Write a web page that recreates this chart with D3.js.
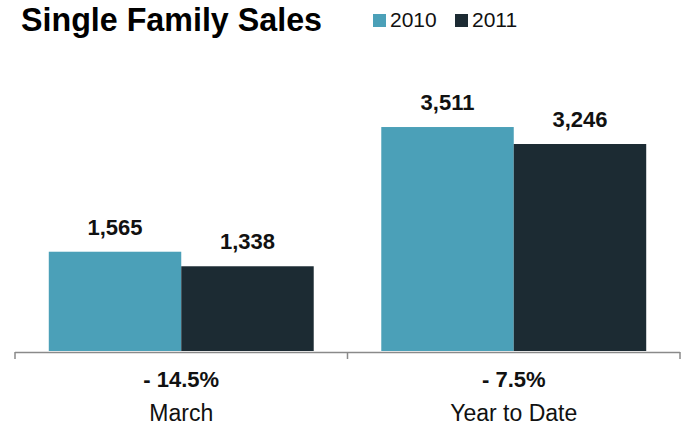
<!doctype html>
<html>
<head>
<meta charset="utf-8">
<script src="https://d3js.org/d3.v7.min.js"></script>
<style>
  body { margin: 0; background: #fff; }
  text { font-family: "Liberation Sans", Arial, sans-serif; }
</style>
</head>
<body>
<script>
// chart data
var categories = ["March", "Year to Date"];
var seriesNames = ["2010", "2011"];
var sales2010 = [1565, 3511];
var sales2011 = [1338, 3246];
var changeLabels = ["- 14.5%", "- 7.5%"];
var colors = ["#4ba0b8", "#1c2b33"];

var width = 692, height = 430;
var baseY = 352;

var svg = d3.select("body").append("svg")
    .attr("width", width)
    .attr("height", height);

var x = d3.scaleBand()
    .domain(categories)
    .range([15, 680]);

var xs = d3.scaleBand()
    .domain(seriesNames)
    .range([0, x.bandwidth()])
    .paddingOuter(0.255);

var y = d3.scaleLinear()
    .domain([0, 4000])
    .range([baseY, baseY - 256.3]);

var rows = categories.map(function(c, i) {
    return { cat: c, vals: [sales2010[i], sales2011[i]], change: changeLabels[i] };
});

// title
svg.append("text")
    .attr("x", 21).attr("y", 31)
    .style("font-family", "'Liberation Sans Narrow', 'Liberation Sans', sans-serif")
    .style("font-weight", "bold")
    .style("font-size", "33px")
    .attr("textLength", 301)
    .attr("lengthAdjust", "spacingAndGlyphs")
    .text("Single Family Sales");

// legend
var legend = svg.selectAll(".legend")
    .data(seriesNames)
    .enter().append("g")
    .attr("transform", function(d, i) { return "translate(" + (373 + i * 82) + ",0)"; });

legend.append("rect")
    .attr("x", 0).attr("y", 14)
    .attr("width", 13).attr("height", 13)
    .attr("fill", function(d, i) { return colors[i]; });

legend.append("text")
    .attr("x", 17).attr("y", 27)
    .style("font-size", "21px")
    .attr("fill", "#111")
    .text(function(d) { return d; });

// bars
var group = svg.selectAll(".grp")
    .data(rows)
    .enter().append("g")
    .attr("transform", function(d) { return "translate(" + x(d.cat) + ",0)"; });

var bar = group.selectAll(".bar")
    .data(function(d) { return d.vals.map(function(v, i) { return { name: seriesNames[i], v: v, i: i }; }); })
    .enter();

bar.append("rect")
    .attr("x", function(d) { return xs(d.name); })
    .attr("y", function(d) { return y(d.v); })
    .attr("width", xs.bandwidth())
    .attr("height", function(d) { return baseY - y(d.v) - 1; })
    .attr("fill", function(d) { return colors[d.i]; });

bar.append("text")
    .attr("x", function(d) { return xs(d.name) + xs.bandwidth() / 2; })
    .attr("y", function(d) { return y(d.v) - 17; })
    .attr("text-anchor", "middle")
    .style("font-weight", "bold")
    .style("font-size", "22px")
    .attr("fill", "#111")
    .text(function(d) { return d3.format(",")(d.v); });

// axis
svg.append("line")
    .attr("x1", 15).attr("x2", 680)
    .attr("y1", baseY + 0.5).attr("y2", baseY + 0.5)
    .attr("stroke", "#8a8a8a").attr("stroke-width", 1.5);

var tickXs = categories.map(function(c) { return x(c); }).concat([x.range()[1]]);
svg.selectAll(".tick")
    .data(tickXs)
    .enter().append("line")
    .attr("x1", function(d) { return d; }).attr("x2", function(d) { return d; })
    .attr("y1", baseY).attr("y2", baseY + 7)
    .attr("stroke", "#8a8a8a").attr("stroke-width", 1.5);

// change + category labels
group.append("text")
    .attr("x", x.bandwidth() / 2)
    .attr("y", 387)
    .attr("text-anchor", "middle")
    .style("font-weight", "bold")
    .style("font-size", "22px")
    .attr("fill", "#111")
    .text(function(d) { return d.change; });

group.append("text")
    .attr("x", x.bandwidth() / 2)
    .attr("y", 421)
    .attr("text-anchor", "middle")
    .style("font-size", "23px")
    .attr("fill", "#111")
    .text(function(d) { return d.cat; });
</script>
</body>
</html>
